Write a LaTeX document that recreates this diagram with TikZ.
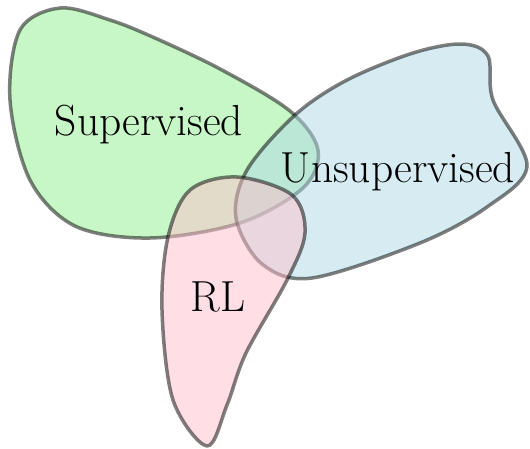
\documentclass[tikz,border=0pt]{standalone}
\begin{document}
\begin{tikzpicture}[x=1pt,y=-1pt,
  blob/.style={draw=black,draw opacity=0.5,line width=3.5pt,fill opacity=0.5,line join=round},
  lbl/.style={font=\fontsize{43.5}{46}\selectfont,inner sep=0pt}]
\useasboundingbox (0,0) rectangle (530,448);
% green (supervised)
\path[blob,fill={rgb,255:red,144;green,238;blue,144}] plot[smooth cycle,tension=0.55] coordinates {
 (60,8) (110,20) (155,38) (222,70) (290,111) (318,150) (303,188) (240,223) (150,238) (75,226) (30,180) (10,100) (20,30)};
% blue (unsupervised)
\path[blob,fill={rgb,255:red,173;green,216;blue,230}] plot[smooth cycle,tension=0.55] coordinates {
 (295,115) (347,80) (413,53) (462,44) (488,56) (493,100) (527,166) (487,207) (420,243) (312,278) (262,264) (236,218) (247,170)};
% pink (RL)
\path[blob,fill={rgb,255:red,255;green,192;blue,203}] plot[smooth cycle,tension=0.55] coordinates {
 (237,177) (190,190) (168,237) (162,310) (173,400) (207,446) (227,405) (246,353) (287,280) (305,233) (292,195)};
\node[lbl] (sup) at (149,125) {Supervised};
\node[lbl] (uns) at (398,172) {Unsupervised};
\node[lbl] (rl) at (218,297) {RL};
\end{tikzpicture}
\end{document}
